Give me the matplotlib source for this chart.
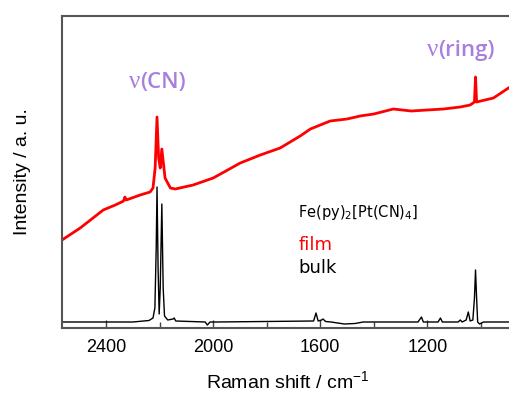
import numpy as np
import matplotlib.pyplot as plt
from matplotlib.ticker import MultipleLocator

# Raman spectra (wavenumber in cm-1, intensity in arbitrary units)
bulk_shift = [2565, 2300, 2240, 2225, 2218, 2213, 2210, 2206, 2202, 2198, 2192, 2187, 2182,
              2170, 2150, 2146, 2140, 2030, 2022, 2012, 1990, 1625, 1616, 1608, 1595, 1590,
              1580, 1560, 1510, 1470, 1440, 1235, 1222, 1215, 1160, 1151, 1144, 1085, 1077,
              1070, 1055, 1047, 1040, 1030, 1024, 1020, 1016, 1012, 1005, 990, 880]
bulk_int = [6, 6, 7.5, 10, 20, 80, 141, 60, 14, 40, 124, 40, 12,
            8, 9, 10, 7, 6, 3, 6, 6, 7, 15, 7, 8, 9,
            6.5, 6, 4, 4.5, 6, 6, 11, 6, 6, 10, 6, 6, 8,
            6, 8, 16, 7, 8, 30, 58, 30, 6, 4, 6, 6]

film_shift = [2565, 2497, 2411, 2366, 2335, 2330, 2325, 2273, 2236, 2225, 2217, 2210, 2204,
              2198, 2192, 2180, 2160, 2142, 2075, 2000, 1899, 1824, 1750, 1675, 1637,
              1563, 1500, 1451, 1400, 1327, 1260, 1200, 1140, 1077, 1040, 1024, 1020, 1016,
              953, 880]
film_int = [88, 100, 118, 123, 127, 131, 128, 133, 136, 140, 160, 211, 170,
            160, 179, 150, 140, 139, 143, 150, 165, 173, 180, 192, 199,
            207, 209, 212, 214, 219, 217, 218, 219, 221, 223, 226, 251, 226,
            230, 243]

# band labels: (split position in cm-1, height, mode name)
band_pos = [2273, 1159]
band_y = [240, 272]
band_names = ['(CN)', '(ring)']

fig = plt.figure(figsize=(5.09, 3.94), dpi=100)
ax = fig.add_axes([62 / 509, 66 / 394, 451 / 509, 312 / 394])

ax.plot(bulk_shift, bulk_int, color='black', lw=1.0)
ax.plot(film_shift, film_int, color='#ff0000', lw=2.0)

ax.set_xlim(2565, 880)
ax.set_ylim(0, 312)

ax.xaxis.set_major_locator(MultipleLocator(400))
ax.xaxis.set_minor_locator(MultipleLocator(200))
ax.tick_params(axis='x', which='major', direction='in', length=6, width=1, color='#444444',
               labelsize=13, pad=8, top=False)
ax.tick_params(axis='x', which='minor', direction='in', length=4, width=1, color='#444444',
               top=False)
ax.set_yticks([])
for s in ax.spines.values():
    s.set_color('#555555')
    s.set_linewidth(1.5)
for lab in ax.get_xticklabels():
    lab.set_family('Liberation Sans')

ax.set_xlabel('Raman shift / cm$^{\\mathregular{-1}}$', fontsize=14, family='Liberation Sans', labelpad=10)
ax.set_ylabel('Intensity / a. u.', fontsize=14, family='Liberation Sans', labelpad=22)

purple = '#a87fe0'
for xp, yp, name in zip(band_pos, band_y, band_names):
    ax.text(xp, yp, '\u03bd', color=purple, fontsize=18, family='Liberation Serif',
            ha='right', va='baseline')
    ax.text(xp, yp, name, color=purple, fontsize=16, fontweight='semibold',
            ha='left', va='baseline', family='Open Sans')

ax.text(1682, 115, 'Fe(py)$_\\mathregular{2}$[Pt(CN)$_\\mathregular{4}$]', fontsize=10.5,
        family='DejaVu Sans', ha='left', va='center')
ax.text(1682, 83, 'film', color='#ff0000', fontsize=13, family='DejaVu Sans', ha='left', va='center')
ax.text(1682, 60, 'bulk', color='black', fontsize=13, family='DejaVu Sans', ha='left', va='center')

fig.savefig('out.png', dpi=100)
